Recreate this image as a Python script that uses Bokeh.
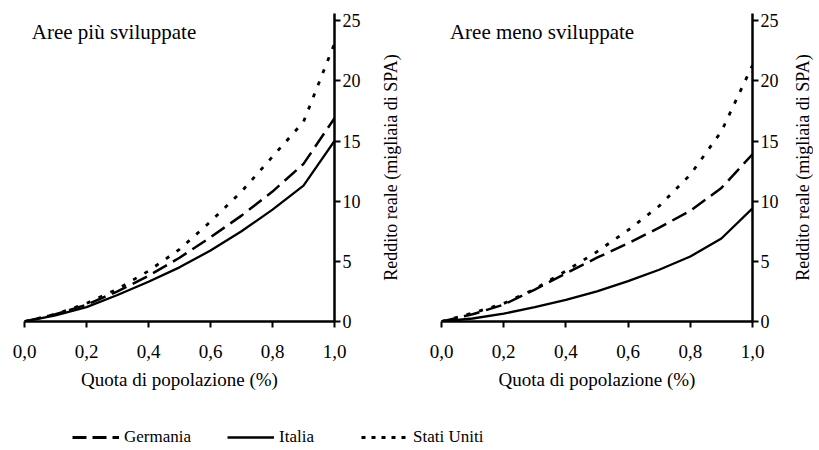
from bokeh.plotting import figure
from bokeh.models import (Range1d, FixedTicker, CustomJSTickFormatter, Label, Legend,
                          LegendItem, LinearAxis)
from bokeh.layouts import column, row
from bokeh.embed import file_html
from bokeh.resources import INLINE

# ---- data ----
quota = [0.0, 0.1, 0.2, 0.3, 0.4, 0.5, 0.6, 0.7, 0.8, 0.9, 1.0]

germania_piu = [0, 0.6, 1.4, 2.5, 3.8, 5.3, 7.0, 8.8, 10.8, 13.1, 16.9]
italia_piu = [0, 0.5, 1.2, 2.2, 3.3, 4.5, 5.9, 7.5, 9.3, 11.3, 15.0]
usa_piu = [0, 0.6, 1.5, 2.7, 4.2, 6.0, 8.3, 10.8, 13.7, 16.6, 23.1]

germania_meno = [0, 0.6, 1.4, 2.65, 4.0, 5.3, 6.5, 7.8, 9.2, 11.1, 13.9]
italia_meno = [0, 0.25, 0.65, 1.2, 1.8, 2.5, 3.35, 4.3, 5.4, 6.9, 9.4]
usa_meno = [0, 0.7, 1.5, 2.7, 4.2, 5.8, 7.6, 9.6, 12.2, 15.8, 21.3]

x_ticks = [0.0, 0.2, 0.4, 0.6, 0.8, 1.0]
y_ticks = [0, 5, 10, 15, 20, 25]

titles = ["Aree più sviluppate", "Aree meno sviluppate"]
x_label = "Quota di popolazione (%)"
y_label = "Reddito reale (migliaia di SPA)"
series_names = ["Germania", "Italia", "Stati Uniti"]

FONT = "Liberation Serif"
DASH = "16 7"
DOT = "4 9"
FRAME_H = 308
MB_TOP = 13
MB_BOTTOM = 80


def label_axis(standoff):
    """A bare left axis used only to carry the rotated y-axis caption."""
    ax = LinearAxis(ticker=FixedTicker(ticks=[]), axis_label=y_label)
    ax.axis_line_color = None
    ax.major_tick_line_color = None
    ax.minor_tick_line_color = None
    ax.major_tick_out = 0
    ax.major_tick_in = 0
    ax.minor_tick_out = 0
    ax.major_label_standoff = 0
    ax.axis_label_standoff = standoff
    ax.axis_label_text_font = FONT
    ax.axis_label_text_font_size = "18px"
    ax.axis_label_text_font_style = "normal"
    ax.axis_label_text_color = "black"
    return ax


def make_panel(title, germ, ital, usa, frame_w, mb_left, mb_right, title_x):
    p = figure(frame_width=frame_w, frame_height=FRAME_H,
               x_range=Range1d(0, 1), y_range=Range1d(0, 25.6),
               y_axis_location="right", output_backend="svg", toolbar_location=None,
               min_border_left=mb_left, min_border_right=mb_right,
               min_border_top=MB_TOP, min_border_bottom=MB_BOTTOM)
    p.outline_line_color = None
    p.grid.visible = False

    p.line(quota, germ, line_color="black", line_width=2.5, line_dash=DASH)
    p.line(quota, ital, line_color="black", line_width=2.3)
    p.line(quota, usa, line_color="black", line_width=2.8, line_dash=DOT)

    xa = p.xaxis[0]
    xa.ticker = FixedTicker(ticks=x_ticks)
    xa.formatter = CustomJSTickFormatter(code="return tick.toFixed(1).replace('.', ',');")
    xa.axis_label = x_label
    xa.axis_label_text_font = FONT
    xa.axis_label_text_font_size = "19px"
    xa.axis_label_text_font_style = "normal"
    xa.axis_label_text_color = "black"
    xa.axis_label_standoff = 8
    xa.major_label_standoff = 17
    xa.major_label_text_font_size = "19px"

    ya = p.yaxis[0]
    ya.ticker = FixedTicker(ticks=y_ticks)
    ya.major_label_standoff = 2
    ya.major_label_text_font_size = "18px"

    for ax in (xa, ya):
        ax.axis_line_width = 2.5
        ax.axis_line_color = "black"
        ax.major_tick_line_width = 2
        ax.major_tick_line_color = "black"
        ax.major_tick_out = 6
        ax.major_tick_in = 0
        ax.minor_tick_line_color = None
        ax.major_label_text_font = FONT
        ax.major_label_text_color = "black"

    p.add_layout(Label(x=title_x, y=24.1, text=title, text_font=FONT,
                       text_font_size="21px", text_color="black",
                       text_align="left", text_baseline="alphabetic"))
    return p


p1 = make_panel(titles[0], germania_piu, italia_piu, usa_piu, 310, 24, 37, 0.0235)
p2 = make_panel(titles[1], germania_meno, italia_meno, usa_meno, 311, 70, 30, 0.027)
# caption of the left panel's axis sits in the gap, carried by p2's left border
p2.add_layout(label_axis(41), "left")

# narrow holder carrying the caption of the right panel's axis
holder = figure(frame_width=1, frame_height=FRAME_H, x_range=Range1d(0, 1),
                y_range=Range1d(0, 1), output_backend="svg", toolbar_location=None,
                x_axis_location=None, y_axis_location=None,
                min_border_left=30, min_border_right=0,
                min_border_top=MB_TOP, min_border_bottom=MB_BOTTOM)
holder.outline_line_color = None
holder.grid.visible = False
holder.add_layout(label_axis(0), "left")

# ---- legend strip (renderers kept outside the visible ranges) ----
lf = figure(width=813, height=45, x_range=Range1d(-2, -1), y_range=Range1d(-2, -1),
            output_backend="svg", toolbar_location=None,
            x_axis_location=None, y_axis_location=None, min_border=0)
lf.outline_line_color = None
lf.grid.visible = False

r_g = lf.line(quota, germania_piu, line_color="black", line_width=3, line_dash="14 6")
r_i = lf.line(quota, italia_piu, line_color="black", line_width=2.5)
r_u = lf.line(quota, usa_piu, line_color="black", line_width=3, line_dash="4 6")

for name, rend, xpos in zip(series_names, [r_g, r_i, r_u], [72, 227, 361]):
    leg = Legend(items=[LegendItem(label=name, renderers=[rend])],
                 location=(xpos, -1), orientation="horizontal",
                 padding=0, margin=0, spacing=0,
                 border_line_color=None, background_fill_alpha=0,
                 glyph_width=47, glyph_height=16, label_height=16,
                 label_standoff=5, label_text_font=FONT,
                 label_text_font_size="17px", label_text_color="black")
    lf.add_layout(leg)

layout = column(row(p1, p2, holder), lf)
open("out.html", "w").write(file_html(layout, INLINE))
